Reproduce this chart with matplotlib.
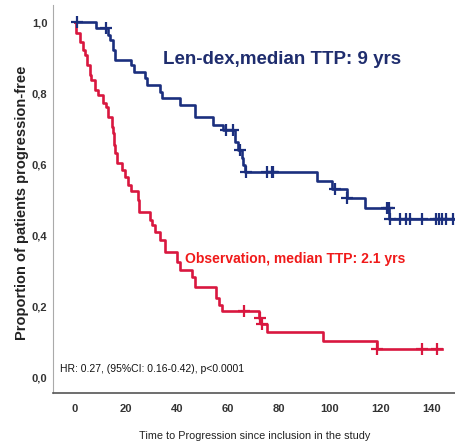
import numpy as np
import matplotlib
matplotlib.use("Agg")
import matplotlib.pyplot as plt

# Kaplan-Meier steps (months, proportion progression-free)
lendex_t = [0, 8.2, 13.1, 13.7, 14.9, 15.7, 22.2, 23.1, 27.5, 28.2, 33.3, 34.1,
            41.2, 47.1, 54.1, 58.0, 62.7, 63.9, 65.4, 65.9, 66.7, 94.8, 100.7,
            106.5, 113.7, 123.1, 149.5]
lendex_s = [1.0, 0.982, 0.963, 0.949, 0.921, 0.893, 0.879, 0.860, 0.843, 0.823,
            0.803, 0.787, 0.767, 0.734, 0.712, 0.697, 0.663, 0.640, 0.618, 0.598,
            0.579, 0.554, 0.530, 0.505, 0.477, 0.446, 0.446]
lendex_cens = [0.7, 12.4, 59.2, 62.0, 64.7, 67.0, 75.3, 77.1, 77.5, 102.0, 106.8,
               122.4, 123.0, 123.5, 127.5, 129.8, 131.4, 136.2, 141.4, 142.6,
               143.9, 145.3, 148.2]

obs_t = [0, 0.5, 2.0, 3.3, 3.8, 4.6, 5.9, 6.4, 7.8, 9.1, 11.0, 12.4, 12.9, 14.4,
         14.9, 15.3, 15.8, 16.4, 18.3, 19.6, 20.9, 22.2, 24.7, 25.3, 29.4, 30.2,
         31.4, 33.3, 35.3, 39.9, 41.2, 45.8, 47.0, 55.5, 56.5, 57.5, 72.2, 72.8,
         75.2, 97.4, 118.3, 143.8]
obs_s = [1.0, 0.969, 0.944, 0.921, 0.907, 0.879, 0.851, 0.837, 0.809, 0.795,
         0.772, 0.761, 0.733, 0.705, 0.688, 0.654, 0.632, 0.604, 0.584, 0.565,
         0.542, 0.525, 0.500, 0.465, 0.444, 0.430, 0.410, 0.388, 0.354, 0.326,
         0.303, 0.284, 0.256, 0.225, 0.205, 0.188, 0.169, 0.152, 0.129, 0.105,
         0.081, 0.081]
obs_cens = [66.3, 72.5, 73.3, 118.3, 135.9, 141.8]

x_ticks = [0, 20, 40, 60, 80, 100, 120, 140]
y_ticks = [0.0, 0.2, 0.4, 0.6, 0.8, 1.0]
y_ticklabels = ["0,0", "0,2", "0,4", "0,6", "0,8", "1,0"]

BLUE = "#1b2f7e"
RED = "#d9173f"
SANS = ["Liberation Sans", "DejaVu Sans"]


def step_value(t, s, x):
    idx = np.searchsorted(t, x, side="right") - 1
    return np.asarray(s)[idx]


fig = plt.figure(figsize=(4.56, 4.48), dpi=100)
ax = fig.add_axes([0.116, 0.123, 0.884, 0.866])

ax.step(lendex_t, lendex_s, where="post", color=BLUE, lw=1.9)
ax.step(obs_t, obs_s, where="post", color=RED, lw=1.9)
ax.plot(lendex_cens, step_value(lendex_t, lendex_s, lendex_cens), "+",
        color=BLUE, ms=9, mew=1.6)
ax.plot(obs_cens, step_value(obs_t, obs_s, obs_cens), "+",
        color=RED, ms=9, mew=1.6)

ax.set_xlim(-8.6, 149.4)
ax.set_ylim(-0.042, 1.048)
ax.set_xticks(x_ticks)
ax.set_yticks(y_ticks)
ax.set_yticklabels(y_ticklabels)
ax.tick_params(length=0, colors="#333333", labelsize=8)
ax.tick_params(axis="x", pad=8)
ax.tick_params(axis="y", pad=4)
for lab in ax.get_xticklabels() + ax.get_yticklabels():
    lab.set_family(SANS)
    lab.set_fontweight("bold")

for side in ["top", "right"]:
    ax.spines[side].set_visible(False)
ax.spines["left"].set_color("#aaaaaa")
ax.spines["bottom"].set_color("#555555")
ax.spines["bottom"].set_linewidth(1.2)

ax.set_xlabel("Time to Progression since inclusion in the study",
              family=SANS, fontsize=7.8, color="#222222", labelpad=12)
ax.set_ylabel("Proportion of patients progression-free", family=SANS,
              fontsize=10.5, fontweight="bold", color="#222222")
ax.yaxis.set_label_coords(-0.06, 0.49)

ax.text(34.5, 0.895, "Len-dex,median TTP: 9 yrs", color="#1f2d6e",
        family=SANS, fontsize=13.5, fontweight="bold", va="center")
ax.text(43.1, 0.335, "Observation, median TTP: 2.1 yrs", color="#f01a1a",
        family=SANS, fontsize=10, fontweight="bold", va="center")
ax.text(-6.0, 0.026, "HR: 0.27, (95%CI: 0.16-0.42), p<0.0001", color="#111111",
        family=SANS, fontsize=7.5, va="center")

fig.savefig("out.png", dpi=100)
